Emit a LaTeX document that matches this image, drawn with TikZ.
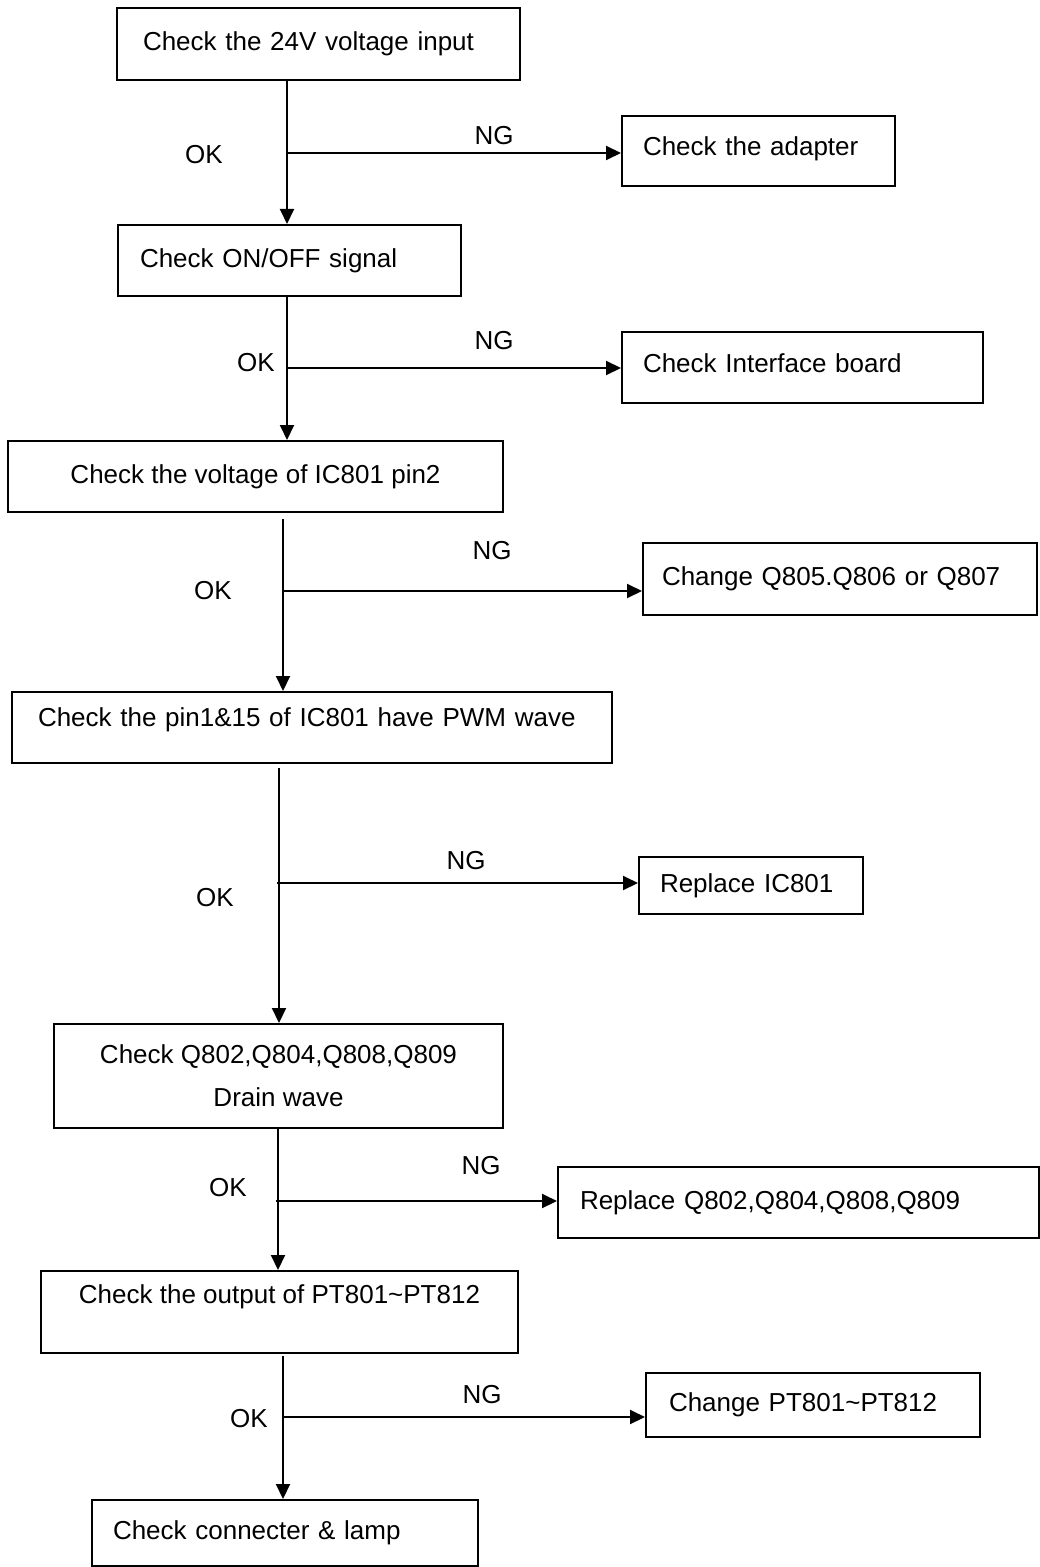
\documentclass[tikz,border=0pt]{standalone}
\usepackage{fontspec}
\setmainfont{Liberation Sans}
\usetikzlibrary{arrows.meta}
\begin{document}
\begin{tikzpicture}[x=0.5pt,y=-0.5pt,
  box/.style={draw,line width=1pt,inner ysep=0pt,font=\fontsize{13}{21.5}\selectfont},
  lbox/.style={box,align=left},
  cbox/.style={box,align=center},
  lbl/.style={inner sep=0pt,font=\fontsize{13}{15}\selectfont},
  arr/.style={line width=1pt,-{Triangle[length=7.5pt,width=7pt]}},
  ln/.style={line width=1pt}]
\useasboundingbox (0,0) rectangle (1039,1567);
% boxes
\node[lbox,minimum width=201.5pt,minimum height=36pt,text width=175.5pt,inner xsep=13pt] (b1) at (318.5,44) {Check the 24V voltage input};
\node[lbox,minimum width=136.5pt,minimum height=35pt,text width=115.5pt,inner xsep=10.5pt,text height=10pt,text depth=5pt] (b2) at (758.5,151) {Check the adapter};
\node[lbox,minimum width=171.5pt,minimum height=35.5pt,text width=149.5pt,inner xsep=11pt] (b3) at (289.5,260.5) {Check ON/OFF signal};
\node[lbox,minimum width=180.5pt,minimum height=35.5pt,text width=159.5pt,inner xsep=10.5pt,text height=10pt,text depth=5pt] (b4) at (802.5,367.5) {Check Interface board};
\node[cbox,minimum width=247.5pt,minimum height=35.5pt] (b5) at (255.5,476.5) {Check the voltage of IC801 pin2};
\node[lbox,minimum width=197pt,minimum height=36pt,text width=178pt,inner xsep=9.5pt] (b6) at (840,579) {Change Q805.Q806 or Q807};
\node[lbox,minimum width=300pt,minimum height=35.5pt,text width=287pt,inner xsep=6.5pt,text height=10pt,text depth=10.6pt] (b7) at (312,727.5) {\hspace*{6.5pt}\mbox{Check the pin1\&15 of IC801 have PWM wave}};
\node[lbox,minimum width=112pt,minimum height=28.5pt,text width=91pt,inner xsep=10.5pt] (b8) at (751,885.5) {Replace IC801};
\node[cbox,minimum width=224.5pt,minimum height=52pt] (b9) at (278.5,1076) {Check Q802,Q804,Q808,Q809\\Drain wave};
\node[lbox,minimum width=240.5pt,minimum height=35.5pt,text width=218.5pt,inner xsep=11pt] (b10) at (798.5,1202.5) {Replace Q802,Q804,Q808,Q809};
\node[cbox,minimum width=238.5pt,minimum height=41pt,text height=10pt,text depth=18.6pt] (b11) at (279.5,1312) {Check the output of PT801\textasciitilde PT812};
\node[lbox,minimum width=167pt,minimum height=32pt,text width=144pt,inner xsep=11.5pt] (b12) at (813,1405) {Change PT801\textasciitilde PT812};
\node[lbox,minimum width=193pt,minimum height=33pt,text width=172pt,inner xsep=10.5pt] (b13) at (285,1533) {Check connecter \& lamp};
% junctions
\coordinate (t1) at (287,153);
\coordinate (t2) at (287,368);
\coordinate (t3) at (283,591);
\coordinate (t4) at (279,883);
\coordinate (t5) at (278,1201);
\coordinate (t6) at (283,1417);
% trunks
\draw[arr] (b1.south -| t1) -- (b3.north -| t1);
\draw[arr] (b3.south -| t2) -- (b5.north -| t2);
\draw[arr,shorten <=3pt] (b5.south -| t3) -- (b7.north -| t3);
\draw[arr,shorten <=2pt] (b7.south -| t4) -- (b9.north -| t4);
\draw[arr] (b9.south -| t5) -- (b11.north -| t5);
\draw[arr,shorten <=1pt] (b11.south -| t6) -- (b13.north -| t6);
% branches
\draw[arr] (t1) -- (b2.west |- t1);
\draw[arr] (t2) -- (b4.west |- t2);
\draw[arr] (t3) -- (b6.west |- t3);
\draw[arr] ([xshift=-1pt]t4) -- (b8.west |- t4);
\draw[arr] ([xshift=-1pt]t5) -- (b10.west |- t5);
\draw[arr] (t6) -- (b12.west |- t6);
% labels
\node[lbl] (ok1) at (204,155) {OK};
\node[lbl] (ng1) at (494,136) {NG};
\node[lbl] (ok2) at (256,363) {OK};
\node[lbl] (ng2) at (494,341) {NG};
\node[lbl] (ok3) at (213,591) {OK};
\node[lbl] (ng3) at (492,551) {NG};
\node[lbl] (ok4) at (215,898) {OK};
\node[lbl] (ng4) at (466,861) {NG};
\node[lbl] (ok5) at (228,1188) {OK};
\node[lbl] (ng5) at (481,1166) {NG};
\node[lbl] (ok6) at (249,1419) {OK};
\node[lbl] (ng6) at (482,1395) {NG};
\end{tikzpicture}
\end{document}
